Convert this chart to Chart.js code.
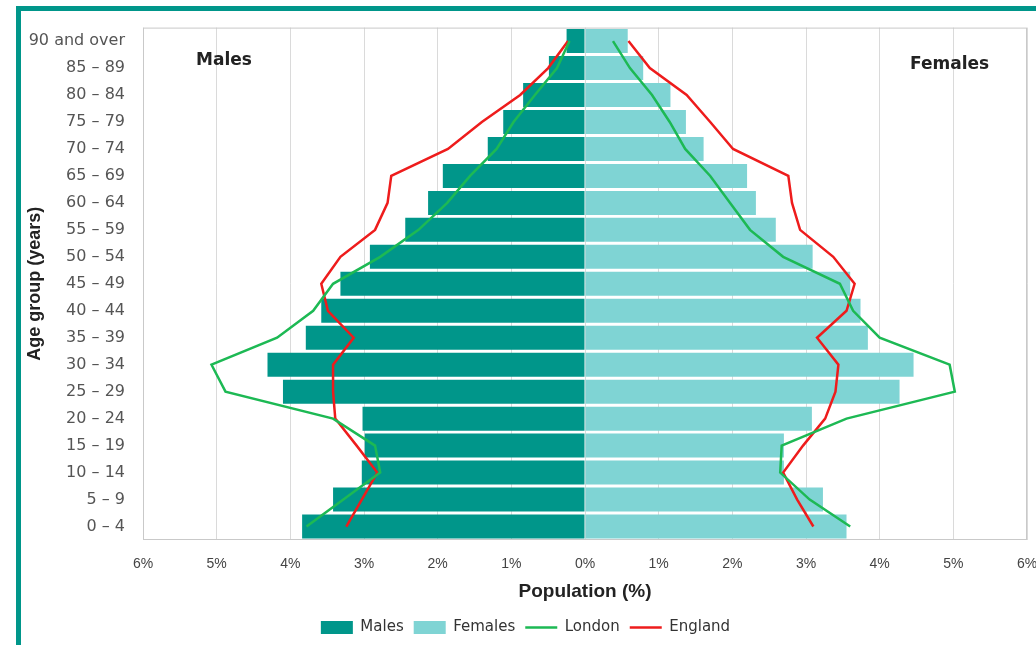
<!DOCTYPE html>
<html>
<head>
<meta charset="utf-8">
<script src="https://cdn.jsdelivr.net/npm/chart.js@4"></script>
<style>
  body { margin: 0; background: #fff; }
  #wrap { position: relative; width: 1036px; height: 645px; overflow: hidden; }
  #frame {
    position: absolute; left: 16px; top: 6px; width: 2000px; height: 2000px;
    border-left: 5px solid #00968a; border-top: 5px solid #00968a;
    pointer-events: none;
  }
</style>
</head>
<body>
<div id="wrap">
  <canvas id="myChart" width="1036" height="645"></canvas>
  <div id="frame"></div>
</div>
<script>
// Age groups, top of the pyramid first
const ageGroups = ['90 and over', '85 – 89', '80 – 84', '75 – 79', '70 – 74', '65 – 69', '60 – 64',
  '55 – 59', '50 – 54', '45 – 49', '40 – 44', '35 – 39', '30 – 34', '25 – 29', '20 – 24',
  '15 – 19', '10 – 14', '5 – 9', '0 – 4'];

// Share of population (%)
const males = [0.25, 0.49, 0.84, 1.11, 1.32, 1.93, 2.13, 2.44, 2.92, 3.32, 3.58, 3.79, 4.31, 4.1, 3.02, 2.99, 3.03, 3.42, 3.84];
const females = [0.58, 0.79, 1.16, 1.37, 1.61, 2.2, 2.32, 2.59, 3.09, 3.6, 3.74, 3.84, 4.46, 4.27, 3.08, 2.7, 2.7, 3.23, 3.55];
const londonMales = [0.21, 0.38, 0.68, 0.97, 1.2, 1.56, 1.87, 2.26, 2.78, 3.42, 3.69, 4.18, 5.07, 4.88, 3.42, 2.85, 2.78, 3.28, 3.78];
const londonFemales = [0.38, 0.61, 0.91, 1.15, 1.36, 1.7, 1.97, 2.24, 2.69, 3.46, 3.64, 4.0, 4.95, 5.02, 3.55, 2.67, 2.65, 3.05, 3.6];
const englandMales = [0.23, 0.5, 0.88, 1.4, 1.86, 2.63, 2.68, 2.85, 3.32, 3.58, 3.49, 3.14, 3.42, 3.42, 3.39, 3.1, 2.82, 3.03, 3.24];
const englandFemales = [0.59, 0.88, 1.38, 1.7, 2.01, 2.76, 2.81, 2.92, 3.37, 3.66, 3.55, 3.15, 3.44, 3.4, 3.26, 2.96, 2.69, 2.88, 3.1];

const xTicks = [-6, -5, -4, -3, -2, -1, 0, 1, 2, 3, 4, 5, 6];

const maleColor = '#00968a';
const femaleColor = '#7fd4d4';
const londonColor = '#1db954';
const englandColor = '#ee1c1c';

// Box round the plot and the "Males" / "Females" captions
const plotDecor = {
  id: 'plotDecor',
  afterDatasetsDraw(chart) {
    const { ctx, chartArea: a, scales } = chart;
    ctx.save();
    ctx.strokeStyle = '#c9c9c9';
    ctx.lineWidth = 1;
    ctx.strokeRect(a.left + 0.5, a.top + 0.5, a.width - 1, a.height - 1);
    ctx.fillStyle = '#222';
    ctx.font = 'bold 17px "DejaVu Sans", sans-serif';
    ctx.textAlign = 'center';
    ctx.textBaseline = 'middle';
    const yCap = (scales.y.getPixelForValue(0) + scales.y.getPixelForValue(1)) / 2 + 8;
    ctx.fillText('Males', scales.x.getPixelForValue(-4.9), yCap - 2);
    ctx.fillText('Females', scales.x.getPixelForValue(4.95), yCap + 2);
    ctx.restore();
  }
};

const lineStyle = {
  type: 'line',
  borderWidth: 2.5,
  pointRadius: 0,
  pointStyle: 'line',
  tension: 0,
  order: 0
};

new Chart(document.getElementById('myChart'), {
  type: 'bar',
  data: {
    labels: ageGroups,
    datasets: [
      { label: 'Males', data: males.map(v => -v), backgroundColor: maleColor, pointStyle: 'rect',
        grouped: false, barPercentage: 0.89, categoryPercentage: 1, order: 1 },
      { label: 'Females', data: females, backgroundColor: femaleColor, pointStyle: 'rect',
        grouped: false, barPercentage: 0.89, categoryPercentage: 1, order: 1 },
      { ...lineStyle, label: 'London', data: londonMales.map(v => -v), borderColor: londonColor, backgroundColor: londonColor },
      { ...lineStyle, label: 'England', data: englandMales.map(v => -v), borderColor: englandColor, backgroundColor: englandColor },
      { ...lineStyle, label: 'London', data: londonFemales, borderColor: londonColor, backgroundColor: londonColor },
      { ...lineStyle, label: 'England', data: englandFemales, borderColor: englandColor, backgroundColor: englandColor }
    ]
  },
  options: {
    indexAxis: 'y',
    responsive: false,
    animation: false,
    layout: { padding: { left: 24, top: 24, right: 9, bottom: 0 } },
    scales: {
      x: {
        min: -6,
        max: 6,
        afterBuildTicks: (scale) => { scale.ticks = xTicks.map(v => ({ value: v })); },
        afterFit: (scale) => {
          scale.height = 70;
          scale.paddingLeft = 0;
          scale.paddingRight = 0;
        },
        grid: { color: '#dadada', drawTicks: false },
        border: { display: false },
        ticks: {
          padding: 16,
          color: '#444',
          font: { family: '"Liberation Sans Narrow", "Liberation Sans", sans-serif', size: 14 },
          callback: (v) => Math.abs(v) + '%'
        },
        title: {
          display: true,
          text: 'Population (%)',
          color: '#222',
          padding: { top: 4, bottom: 7 },
          font: { family: '"Liberation Sans", sans-serif', size: 19, weight: 'bold' }
        }
      },
      y: {
        afterFit: (scale) => { scale.width = 119; },
        grid: { display: false, drawTicks: false },
        border: { display: false },
        ticks: {
          padding: 18,
          color: '#555',
          font: { family: '"DejaVu Sans", sans-serif', size: 16 }
        },
        title: {
          display: true,
          text: 'Age group (years)',
          color: '#222',
          padding: { top: 0, bottom: 2 },
          font: { family: '"Liberation Sans", sans-serif', size: 18, weight: 'bold' }
        }
      }
    },
    plugins: {
      legend: {
        position: 'bottom',
        labels: {
          usePointStyle: true,
          pointStyleWidth: 32,
          boxHeight: 13,
          padding: 10,
          color: '#333',
          font: { family: '"DejaVu Sans", sans-serif', size: 15 },
          filter: (item) => item.datasetIndex < 4,
          sort: (a, b) => a.datasetIndex - b.datasetIndex
        }
      },
      tooltip: { enabled: false }
    }
  },
  plugins: [plotDecor]
});
</script>
</body>
</html>
